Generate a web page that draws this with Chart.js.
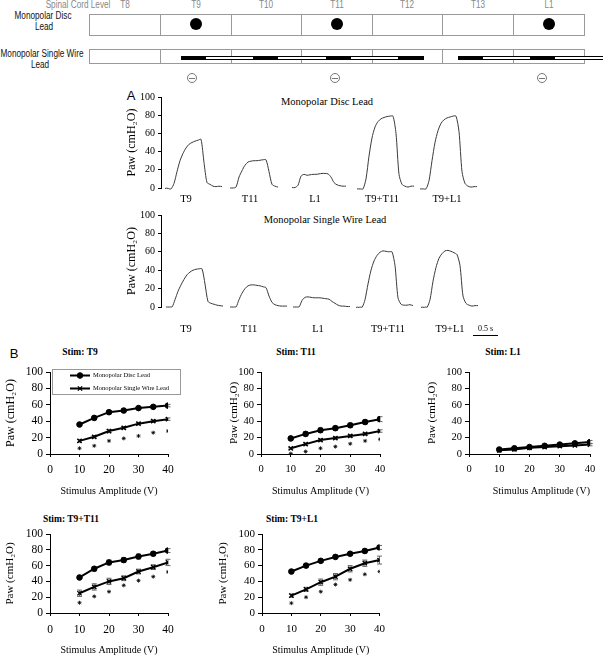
<!DOCTYPE html>
<html>
<head>
<meta charset="utf-8">
<script src="https://cdn.jsdelivr.net/npm/chart.js@4.4.1/dist/chart.umd.min.js"></script>
<style>
  html, body { margin: 0; padding: 0; background: #fff; width: 603px; height: 655px; overflow: hidden; }
  .lbl { position: absolute; transform: translate(-50%, -50%); white-space: nowrap; line-height: 1; }
  .lbl.sans { font-family: "Liberation Sans", Arial, sans-serif; font-size: 10px; transform: translate(-50%, -50%) scaleX(0.82); }
  .serif { font-family: "Liberation Serif", "Times New Roman", serif; }
</style>
</head>
<body>
<script>
// ---- schematic (spinal cord levels and leads) ----
var levels = ["T8", "T9", "T10", "T11", "T12", "T13", "L1"];
var colEdges = [89, 160, 231, 301, 372, 442, 513, 585];
var discSites = ["T9", "T11", "L1"];
var cathodeX = [192, 335, 542];
var wire1 = [181, 206, 253, 278, 326, 351, 398, 424];
var wire2 = [458, 483, 530, 555, 604];

// ---- panel A: pressure traces ----
var traceLabels = ["T9", "T11", "L1", "T9+T11", "T9+L1"];
var traceTime = [0, 0.06, 0.12, 0.18, 0.24, 0.30, 0.36, 0.42, 0.48, 0.54, 0.60, 0.66, 0.72, 0.78, 0.84, 0.90, 0.96, 1.02, 1.08, 1.14];
var discStart = [0.08, 1.38, 2.62, 3.92, 5.18];
var wireStart = [0.10, 1.38, 2.64, 3.90, 5.20];
var discLabelAt = [0.50, 1.78, 3.08, 4.42, 5.72];
var wireLabelAt = [0.50, 1.76, 3.14, 4.54, 5.78];
var discTraceT9 = [-0.5, -0.5, -1, 5, 18, 30, 38, 44, 48, 50, 51.5, 52.5, 53.5, 28, 6, 4, 2, 1.5, 2, 1.5];
var discTraceT11 = [0, 0, 1, 12, 19, 25, 28.5, 29.5, 30, 30, 30.5, 31, 31, 18, 4, 2, 1, null, null, null];
var discTraceL1 = [0.5, 0.5, 3, 13, 15, 14, 14.5, 15, 15, 15.5, 16, 16, 15.5, 12, 6, 3.5, 2.5, 2, 2, null];
var discTraceT9T11 = [-1, -1, -1, 10, 35, 55, 67, 73, 76, 77.5, 78.5, 79, 79, 60, 15, 4, 2, 1, 2, 2];
var discTraceT9L1 = [-1, -1, -1, 8, 30, 50, 63, 71, 75, 77, 78, 79, 79, 62, 18, 5, 2, 1, 1.5, 1.5];
var wireTraceT9 = [0, 0, 0, 8, 17, 24, 30, 35, 38, 40, 41, 41.5, 41.5, 25, 6, 4, 3, 2, 1.5, 1];
var wireTraceT11 = [0, 0, 0, 8, 15, 20, 23, 24, 24, 23.5, 23, 22, 21, 12, 5, 2.5, 1.5, 1, 1, 1];
var wireTraceL1 = [0, 0, 0, 7, 10.5, 11, 10.5, 10, 10, 10, 9.5, 9, 8.5, 6, 4, 2, 1, 1, 0.5, 0.5];
var wireTraceT9T11 = [-0.5, -0.5, -0.5, 8, 25, 40, 50, 56, 59.5, 61, 60.5, 60, 60, 45, 10, 3, 2, 2, 2.5, 1.5];
var wireTraceT9L1 = [-0.5, -0.5, -0.5, 8, 28, 43, 53, 58, 61, 61.5, 60.5, 59, 57, 45, 12, 4, 2, 1, 1.5, 1.5];
var scaleBarFrom = 6.24;
var scaleBarLen = 0.5;

// ---- panel B: pressure vs stimulus amplitude ----
var ampV = [10, 15, 20, 25, 30, 35, 40];
var discT9 = [36, 44, 51, 53, 56, 57.5, 59];
var discT9Err = [1.5, 2, 2, 1.5, 1.5, 1.5, 1.5];
var wireT9 = [16, 21, 28, 32, 37, 40, 42.5];
var wireT9Err = [1.5, 1.5, 2, 1.5, 1.5, 1.5, 1.5];
var starT9 = [7, 10, 16, 19, 22, 26, 28];
var discT11 = [19, 24.5, 29, 31.5, 35, 39, 42.5];
var discT11Err = [1.5, 2.5, 2.5, 2.5, 2.5, 2.5, 3];
var wireT11 = [7, 12, 17, 19.5, 22, 24.5, 28];
var wireT11Err = [1, 1.5, 1.5, 1.5, 1.5, 1.5, 1.5];
var starT11 = [0.5, 3, 7, 9, 12.5, 16, 18];
var discL1 = [5.5, 7, 8.5, 10, 11.5, 13, 14.5];
var discL1Err = [1, 1, 1, 1.5, 1.5, 1.5, 2];
var wireL1 = [4.5, 5.5, 7.5, 8.5, 9.5, 10.5, 11.5];
var wireL1Err = [1, 1, 1, 1, 1, 1, 1.5];
var starL1 = [];
var discT9T11 = [45, 56, 64, 67, 71.5, 75, 79];
var discT9T11Err = [2, 2.5, 3, 3, 3, 2.5, 2.5];
var wireT9T11 = [25, 33, 40, 44, 52.5, 58, 64];
var wireT9T11Err = [4, 4, 4, 3, 3, 3, 4];
var starT9T11 = [13, 21, 27, 35, 41, 46, 52];
var discT9L1 = [52.5, 60, 66, 71, 75, 78.5, 83];
var discT9L1Err = [2, 2, 2, 2, 2, 2.5, 2.5];
var wireT9L1 = [22, 30, 39, 46, 56, 63, 67];
var wireT9L1Err = [2, 2.5, 4, 4, 4, 4, 5];
var starT9L1 = [12.5, 20, 27, 36, 42, 49, 52.5];

function put(cls, html, css) {
  var d = document.createElement("div");
  if (cls) d.className = cls;
  d.style.cssText = "position:absolute;" + css;
  d.innerHTML = html;
  document.body.appendChild(d);
  return d;
}

// schematic
put("lbl sans", "Spinal Cord Level", "left:78px;top:5px;color:#888;");
levels.forEach(function (lv, i) {
  var cx = (colEdges[i] + colEdges[i + 1]) / 2;
  put("lbl sans", lv, "left:" + cx + "px;top:5px;color:#888;");
  if (discSites.indexOf(lv) >= 0) {
    put("", "", "left:" + (cx - 6) + "px;top:18px;width:12px;height:12px;border-radius:50%;background:#000;");
  }
});
put("lbl sans", "Monopolar Disc", "left:43px;top:16px;color:#111;");
put("lbl sans", "Lead", "left:44px;top:27px;color:#111;");
put("lbl sans", "Monopolar Single Wire", "left:42px;top:54px;color:#111;");
put("lbl sans", "Lead", "left:40px;top:65px;color:#111;");
[[14, 22], [49, 15]].forEach(function (b) {
  var L = colEdges[0], R = colEdges[colEdges.length - 1];
  put("", "", "left:" + L + "px;top:" + b[0] + "px;width:" + (R - L) + "px;height:" + b[1] + "px;border:1px solid #9a9a9a;box-sizing:border-box;");
  for (var i = 1; i < colEdges.length - 1; i++) {
    put("", "", "left:" + colEdges[i] + "px;top:" + b[0] + "px;width:1px;height:" + b[1] + "px;background:#9a9a9a;");
  }
});
[wire1, wire2].forEach(function (w) {
  for (var i = 0; i < w.length - 1; i++) {
    var black = i % 2 === 0;
    put("", "", "left:" + w[i] + "px;top:56px;width:" + (w[i + 1] - w[i]) + "px;height:4px;box-sizing:border-box;" +
      (black ? "background:#000;" : "background:#fff;border-top:1px solid #000;border-bottom:1px solid #000;"));
  }
  var end = w[w.length - 1];
  put("", "", "left:" + (end - 1) + "px;top:56px;width:1px;height:4px;background:#000;");
});
cathodeX.forEach(function (x) {
  put("", "", "left:" + (x - 5) + "px;top:73px;width:10px;height:10px;border-radius:50%;border:1px solid #777;box-sizing:border-box;");
  put("", "", "left:" + (x - 3) + "px;top:77.5px;width:6px;height:1px;background:#777;");
});

// panel letters and titles
put("lbl", "A", "left:131px;top:95px;font:13px 'Liberation Sans',sans-serif;");
put("lbl", "B", "left:14px;top:353px;font:13px 'Liberation Sans',sans-serif;");
put("lbl serif", "Monopolar Disc Lead", "left:327px;top:102px;font-size:10.5px;");
put("lbl serif", "Monopolar Single Wire Lead", "left:325px;top:220px;font-size:10.5px;");
[["Stim: T9", 80, 353], ["Stim: T11", 296, 353], ["Stim: L1", 503, 353], ["Stim: T9+T11", 71, 520], ["Stim: T9+L1", 292, 520]]
  .forEach(function (t) {
    put("lbl serif", t[0], "left:" + t[1] + "px;top:" + t[2] + "px;font-size:9.5px;font-weight:bold;");
  });

// ---- charts ----
Chart.defaults.font.family = '"Liberation Serif", "Times New Roman", serif';
Chart.defaults.color = "#000";
Chart.defaults.animation = false;
Chart.defaults.plugins.legend.display = false;
Chart.defaults.plugins.tooltip.enabled = false;

function mount(left, top, width, height) {
  var d = document.createElement("div");
  d.style.cssText = "position:absolute;left:" + left + "px;top:" + top + "px;width:" + width + "px;height:" + height + "px;";
  var c = document.createElement("canvas");
  d.appendChild(c);
  document.body.appendChild(d);
  return c;
}

var scaleBarPlugin = {
  id: "scaleBar",
  afterDraw: function (chart) {
    var xs = chart.scales.x, a = chart.chartArea, ctx = chart.ctx;
    var x0 = xs.getPixelForValue(scaleBarFrom), x1 = xs.getPixelForValue(scaleBarFrom + scaleBarLen);
    var y = Math.round(a.bottom + 28) + 0.5;
    ctx.save();
    ctx.strokeStyle = "#000";
    ctx.lineWidth = 1;
    ctx.beginPath();
    ctx.moveTo(x0, y);
    ctx.lineTo(x1, y);
    ctx.stroke();
    ctx.fillStyle = "#000";
    ctx.font = '8px "Liberation Serif", serif';
    ctx.textAlign = "center";
    ctx.fillText(scaleBarLen + " s", (x0 + x1) / 2, y - 5);
    ctx.restore();
  }
};

function traceChart(box, series, starts, labelAt) {
  var datasets = series.map(function (vals, i) {
    return {
      data: traceTime.map(function (t, j) { return { x: starts[i] + t, y: vals[j] }; }),
      borderColor: "#3a3a3a",
      borderWidth: 1,
      pointRadius: 0,
      tension: 0.25,
      clip: false
    };
  });
  return new Chart(mount(box.left, box.top, box.w, box.h), {
    type: "line",
    data: { datasets: datasets },
    options: {
      responsive: true,
      maintainAspectRatio: false,
      layout: { padding: { top: 10, right: 19, left: 0, bottom: 0 } },
      scales: {
        x: {
          type: "linear", min: 0, max: 6.6,
          afterFit: function (s) { s.height = box.xH; },
          afterBuildTicks: function (s) { s.ticks = labelAt.map(function (v) { return { value: v }; }); },
          ticks: {
            autoSkip: false, maxRotation: 0, padding: box.labelPad, font: { size: 10.5 },
            callback: function (v, i) { return traceLabels[i]; }
          },
          grid: { display: false, drawTicks: false },
          border: { display: false }
        },
        y: {
          min: 0, max: 100,
          afterFit: function (s) { s.width = 41; },
          ticks: { stepSize: 20, padding: 3, autoSkip: false, font: { size: 10 } },
          grid: { drawOnChartArea: false, tickLength: 3, color: "#000" },
          border: { color: "#000" },
          title: { display: true, text: "Paw (cmH\u2082O)", font: { size: 12 }, padding: { top: 5, bottom: 0 } }
        }
      }
    },
    plugins: box.scaleBar ? [scaleBarPlugin] : []
  });
}

traceChart({ left: 120, top: 87, w: 390, h: 121, xH: 20, labelPad: 5 },
  [discTraceT9, discTraceT11, discTraceL1, discTraceT9T11, discTraceT9L1], discStart, discLabelAt);
traceChart({ left: 120, top: 205, w: 390, h: 147, xH: 45, labelPad: 16, scaleBar: true },
  [wireTraceT9, wireTraceT11, wireTraceL1, wireTraceT9T11, wireTraceT9L1], wireStart, wireLabelAt);

// error bars go under the lines and markers
var errorBars = {
  id: "errorBars",
  beforeDatasetsDraw: function (chart) {
    var ctx = chart.ctx, ys = chart.scales.y;
    ctx.save();
    ctx.strokeStyle = "#666";
    ctx.lineWidth = 1;
    chart.data.datasets.forEach(function (ds, i) {
      if (!ds.errors) return;
      chart.getDatasetMeta(i).data.forEach(function (pt, j) {
        var v = ds.data[j].y, e = ds.errors[j];
        var top = ys.getPixelForValue(v + e), bot = ys.getPixelForValue(v - e);
        ctx.beginPath();
        ctx.moveTo(pt.x, top); ctx.lineTo(pt.x, bot);
        ctx.moveTo(pt.x - 2.5, top); ctx.lineTo(pt.x + 2.5, top);
        ctx.moveTo(pt.x - 2.5, bot); ctx.lineTo(pt.x + 2.5, bot);
        ctx.stroke();
      });
    });
    ctx.restore();
  }
};

var boxLegend = {
  id: "boxLegend",
  afterDraw: function (chart) {
    var ctx = chart.ctx, a = chart.chartArea;
    var x0 = a.left + 2, y0 = a.top - 3, w = 128, h = 25;
    ctx.save();
    ctx.fillStyle = "#fff";
    ctx.fillRect(x0, y0, w, h);
    ctx.strokeStyle = "#999";
    ctx.lineWidth = 1;
    ctx.strokeRect(Math.round(x0) + 0.5, Math.round(y0) + 0.5, w, h);
    chart.data.datasets.slice(0, 2).forEach(function (ds, i) {
      var y = y0 + 6.5 + i * 13;
      ctx.strokeStyle = "#000";
      ctx.fillStyle = "#000";
      ctx.lineWidth = ds.borderWidth;
      ctx.beginPath();
      ctx.moveTo(x0 + 18, y);
      ctx.lineTo(x0 + 38, y);
      ctx.stroke();
      ctx.lineWidth = ds.pointBorderWidth;
      Chart.helpers.drawPoint(ctx, { pointStyle: ds.pointStyle, radius: ds.pointRadius, borderWidth: ds.pointBorderWidth, rotation: 0 }, x0 + 28, y);
      ctx.font = '6.5px "Liberation Serif", serif';
      ctx.textBaseline = "middle";
      ctx.fillText(ds.label, x0 + 41, y);
    });
    ctx.restore();
  }
};

function ampChart(box, disc, discErr, wire, wireErr, star) {
  var pts = function (vals) { return ampV.map(function (v, i) { return { x: v, y: vals[i] }; }); };
  var datasets = [
    { label: "Monopolar Disc Lead", data: pts(disc), errors: discErr, borderColor: "#000", backgroundColor: "#000",
      borderWidth: 2, pointStyle: "circle", pointRadius: 2.8, pointBorderWidth: 1 },
    { label: "Monopolar Single Wire Lead", data: pts(wire), errors: wireErr, borderColor: "#000", backgroundColor: "#000",
      borderWidth: 2, pointStyle: "crossRot", pointRadius: 3, pointBorderWidth: 1.4 }
  ];
  if (star.length) {
    datasets.push({ label: "", data: pts(star), showLine: false, borderColor: "#000", backgroundColor: "#000",
      pointStyle: "star", pointRadius: 2, pointBorderWidth: 0.8 });
  }
  var plugins = [errorBars];
  if (box.legend) plugins.push(boxLegend);
  return new Chart(mount(box.left, box.top, box.w, box.h), {
    type: "line",
    data: { datasets: datasets },
    options: {
      responsive: true,
      maintainAspectRatio: false,
      layout: { padding: { top: 10, right: box.r, left: 0, bottom: 0 } },
      scales: {
        x: {
          type: "linear", min: 0, max: 40,
          afterFit: function (s) { s.height = box.xH; },
          ticks: { stepSize: 10, padding: box.tickPad, autoSkip: false, font: { size: box.tick } },
          grid: { drawOnChartArea: false, tickLength: 3, color: "#000" },
          border: { color: "#000" },
          title: { display: true, text: "Stimulus Amplitude (V)", align: box.titleAlign || "center",
                   font: { size: 10 }, padding: { top: 0, bottom: box.titlePad } }
        },
        y: {
          min: 0, max: 100,
          afterFit: function (s) { s.width = box.yW; },
          ticks: { stepSize: 20, padding: 3, autoSkip: false, font: { size: box.tick } },
          grid: { drawOnChartArea: false, tickLength: 4, color: "#000" },
          border: { color: "#000" },
          title: { display: true, text: "Paw (cmH\u2082O)", font: { size: box.yTitle }, padding: { top: box.yPad, bottom: 0 } }
        }
      }
    },
    plugins: plugins
  });
}

ampChart({ left: 0, top: 362, w: 182, h: 138, r: 14, yW: 50, xH: 46, tick: 11.5, tickPad: 6, titlePad: 3, yTitle: 12, yPad: 4, legend: true },
  discT9, discT9Err, wireT9, wireT9Err, starT9);
ampChart({ left: 225, top: 362, w: 167, h: 138, r: 12, yW: 36, xH: 46, tick: 10.5, tickPad: 6, titlePad: 3, yTitle: 11, yPad: 3 },
  discT11, discT11Err, wireT11, wireT11Err, starT11);
ampChart({ left: 425, top: 362, w: 178, h: 138, r: 13, yW: 44, xH: 46, tick: 10.5, tickPad: 6, titlePad: 3, yTitle: 11, yPad: 1, titleAlign: "end" },
  discL1, discL1Err, wireL1, wireL1Err, starL1);
ampChart({ left: 0, top: 524, w: 182, h: 134, r: 14, yW: 50, xH: 45, tick: 11.5, tickPad: 7, titlePad: 2, yTitle: 11, yPad: 4 },
  discT9T11, discT9T11Err, wireT9T11, wireT9T11Err, starT9T11);
ampChart({ left: 217, top: 524, w: 175, h: 134, r: 12, yW: 45, xH: 45, tick: 11, tickPad: 7, titlePad: 2, yTitle: 11, yPad: 0 },
  discT9L1, discT9L1Err, wireT9L1, wireT9L1Err, starT9L1);
</script>
</body>
</html>
